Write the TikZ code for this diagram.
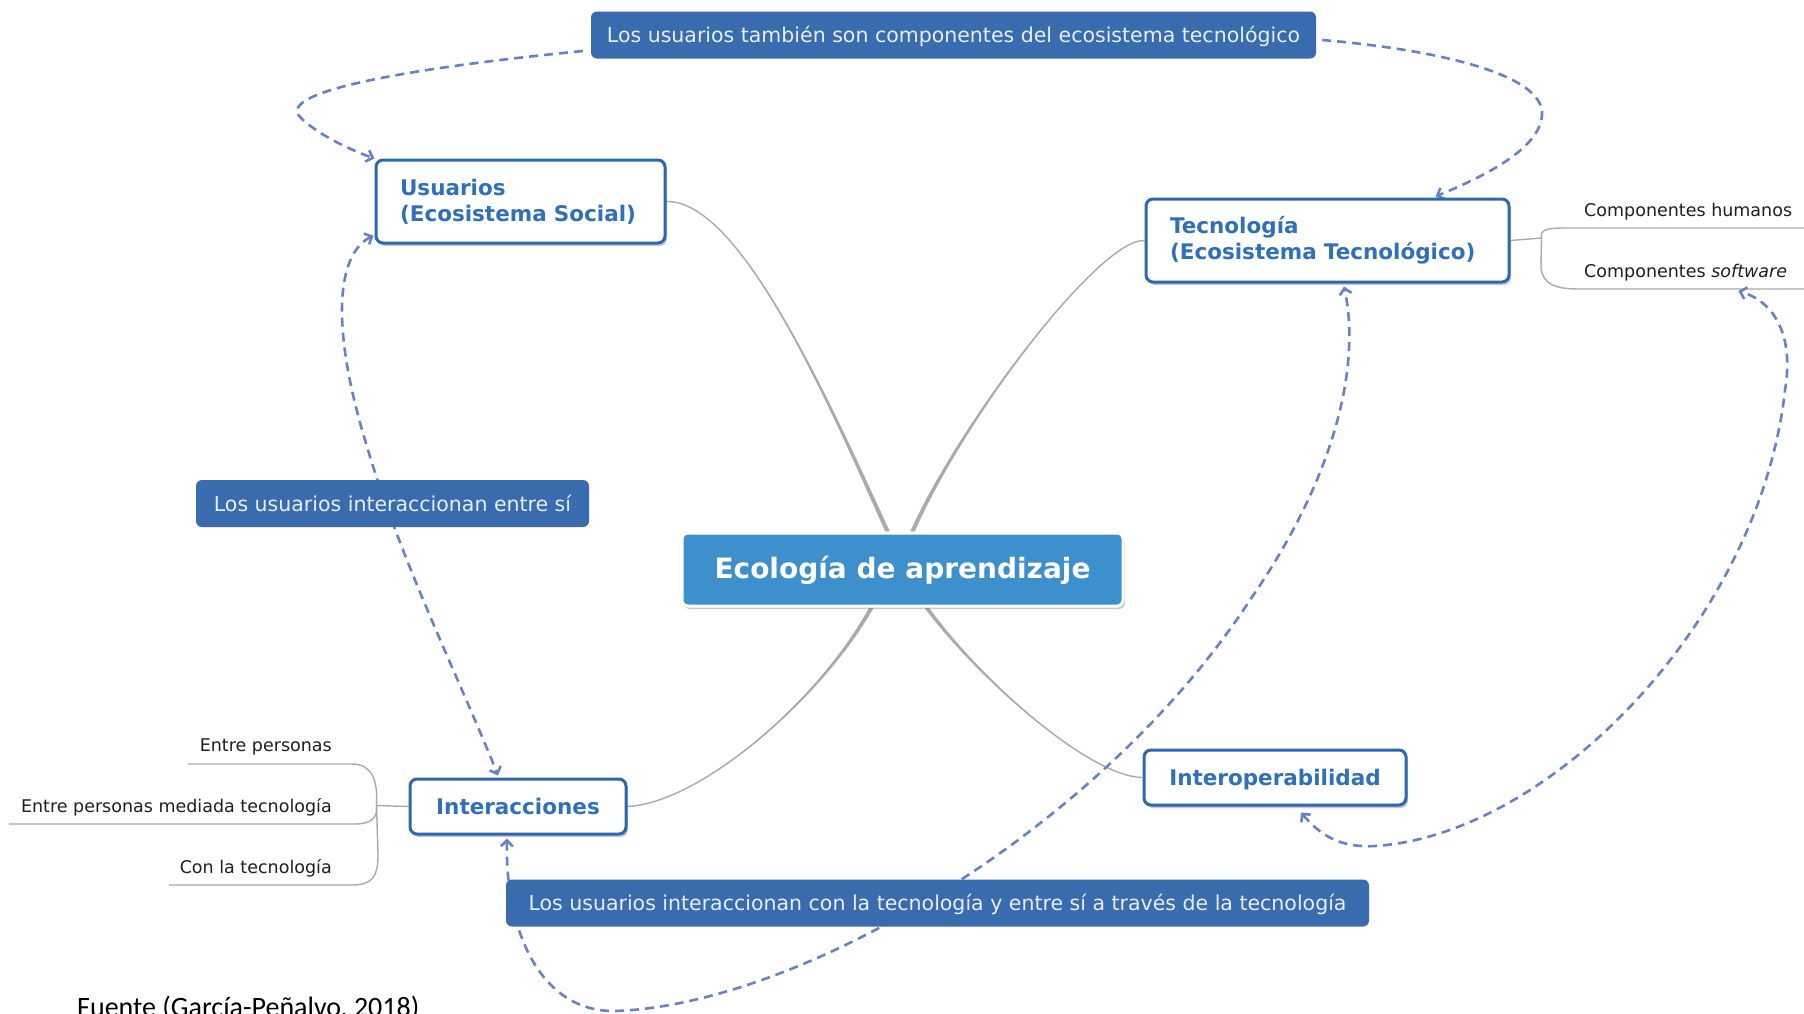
\documentclass[tikz,border=0pt]{standalone}
\usepackage{fontspec}
\setmainfont{DejaVu Sans}
\newfontfamily\fuentefont{Carlito}
\usetikzlibrary{shadows,arrows.meta,calc}
\pgfdeclarelayer{bg}
\pgfsetlayers{bg,main}
\definecolor{bborder}{RGB}{44,104,178}
\definecolor{btext}{RGB}{48,112,186}
\definecolor{lblfill}{RGB}{56,108,174}
\definecolor{lbltext}{RGB}{232,238,248}
\definecolor{ecofill}{RGB}{62,144,204}
\definecolor{dashc}{RGB}{104,130,200}
\definecolor{treec}{RGB}{170,170,170}
\newcommand\taper[4]{%
  \fill[treec] (#1) .. controls (#2) and ($(#3)+(-1.5,0)$) .. ($(#4)+(-2.3,0)$) -- ($(#4)+(2.3,0)$) .. controls ($(#3)+(1.5,0)$) and (#2) .. (#1) -- cycle;
  \draw[treec, line width=1.4pt] (#1) .. controls (#2) and (#3) .. (#4);}
\begin{document}
\begin{tikzpicture}[x=1pt,y=-1pt,
  branch/.style={draw=bborder, line width=3pt, fill=white, rounded corners=7pt, text=btext,
    font=\fontsize{21.5}{26}\selectfont\bfseries,
    drop shadow={shadow xshift=2pt, shadow yshift=-3pt, opacity=0.35, fill=black!60}},
  onebranch/.style={branch, minimum height=55pt, inner xsep=0pt, inner ysep=0pt, text height=18pt, text depth=1.4pt},
  lbl/.style={fill=lblfill, rounded corners=6pt, text=lbltext, inner xsep=0pt, inner ysep=0pt,
    font=\fontsize{20.5}{24}\selectfont, text height=17pt, text depth=2pt, minimum height=47pt},
  small/.style={inner sep=0pt, text=black!88, font=\fontsize{17.5}{21}\selectfont},
  tree/.style={draw=treec, line width=1.4pt},
  dasharrow/.style={draw=dashc, line width=2.6pt, dash pattern=on 9pt off 6pt},
  tip/.tip={Straight Barb[length=6pt,width=12pt]}
]
\useasboundingbox (0,0) rectangle (1804,1013);

% nodes
\node[lbl, minimum width=725pt] (lt) at (953.5,35) {Los usuarios también son componentes del ecosistema tecnológico};
\node[branch, minimum height=83pt, inner xsep=24pt, text width=241pt, align=left] (usu) at (520.5,201.5) {Usuarios\\(Ecosistema Social)};
\node[branch, minimum height=83pt, inner xsep=24pt, text width=315pt, align=left] (tec) at (1327.5,240.5) {Tecnología\\(Ecosistema Tecnológico)};
\node[fill=ecofill, draw=white, line width=3pt, rounded corners=6pt, minimum width=441pt, minimum height=73pt,
  inner ysep=0pt, text height=21pt, text depth=2.6pt,
  text=white, font=\fontsize{28}{32}\selectfont\bfseries,
  drop shadow={shadow xshift=2pt, shadow yshift=-3pt, opacity=0.35, fill=black!60}] (eco) at (902.5,569.5) {Ecología de aprendizaje};
\node[lbl, minimum width=393pt] (ls) at (392.5,503.5) {Los usuarios interaccionan entre sí};
\node[onebranch, minimum width=216pt] (int) at (518,806.5) {Interacciones};
\node[onebranch, minimum width=262pt] (iop) at (1275,777.5) {Interoperabilidad};
\node[lbl, minimum width=863pt] (lb) at (937.5,903) {Los usuarios interaccionan con la tecnología y entre sí a través de la tecnología};

\node[small, anchor=base west] (hum) at (1584,216) {Componentes humanos};
\node[small, anchor=base west] (sw) at (1584,277) {Componentes \textit{software}};
\node[small, anchor=base east] (ep) at (332,751) {Entre personas};
\node[small, anchor=base east] (epm) at (332,812) {Entre personas mediada tecnología};
\node[small, anchor=base east] (con) at (332,873) {Con la tecnología};

\node[anchor=base west, inner sep=0pt, font=\fuentefont\fontsize{28}{32}\selectfont, text=black] (src) at (77,1016) {Fuente (García-Peñalvo, 2018)};

% coordinates
\coordinate (e1) at ($(eco.north)+(-15,0)$);
\coordinate (e2) at ($(eco.north)+(10,0)$);
\coordinate (e3) at ($(eco.south)+(-31,0)$);
\coordinate (e4) at ($(eco.south)+(24,0)$);
\coordinate (J) at ($(int.west)+(-32,-1)$);
\coordinate (K) at ($(tec.east)+(31,-2.5)$);
\coordinate (swtip) at ($(sw.base east)+(-49,14)$);

\begin{pgfonlayer}{bg}
\fill[white] (0,0) rectangle (1804,1013);
% main branches
\taper{usu.east}{740,200}{828,400}{e1}
\taper{tec.west}{1100,238}{962,420}{e2}
\taper{int.east}{700,803}{820,700}{e3}
\taper{iop.west}{1090,777}{980,680}{e4}

% left sub-branches
\draw[tree] (int.west) -- (J);
\draw[tree] (J) .. controls (378,780) and (372,764) .. (352,764) -- (188,764);
\draw[tree] (J) .. controls (378,817) and (372,824) .. (355,824) -- (9,824);
\draw[tree] (J) -- (378,855) .. controls (378,877) and (372,885) .. (352,885) -- (169,885);
% right sub-branches
\draw[tree] (tec.east) -- (K);
\draw[tree] (K) .. controls (1540,230) and (1546,228) .. (1565,228) -- (1804,228);
\draw[tree] (K) -- (1541,268) .. controls (1543,285) and (1556,289) .. (1580,289) -- (1804,289);

% dashed relations
\draw[dasharrow, -tip] ($(lt.west)+(-8,16)$) .. controls (430,66) and (270,90) .. (301,118) .. controls (315,132) and (345,148) .. (usu.north west);
\draw[dasharrow, -tip] ($(lt.east)+(6,5)$) .. controls (1440,50) and (1545,75) .. (1542,115) .. controls (1540,150) and (1480,178) .. ($(tec.north)+(108,-1)$);
\draw[dasharrow, tip-tip] ($(usu.south west)+(-1,-9)$) .. controls (335,255) and (332,330) .. (365,440) .. controls (400,560) and (460,680) .. ($(int.north)+(-20,-2)$);
\draw[dasharrow, tip-tip] ($(int.south)+(-11,3)$) .. controls (505,930) and (540,1012) .. (615,1011) .. controls (800,1005) and (1100,830) .. (1250,600) .. controls (1340,470) and (1360,360) .. ($(tec.south)+(16.5,3)$);
\draw[dasharrow, tip-tip] ($(iop.south)+(26,6)$) .. controls (1320,835) and (1340,848) .. (1375,846) .. controls (1550,835) and (1760,620) .. (1785,390) .. controls (1795,330) and (1770,300) .. (swtip);
\end{pgfonlayer}
\end{tikzpicture}
\end{document}
